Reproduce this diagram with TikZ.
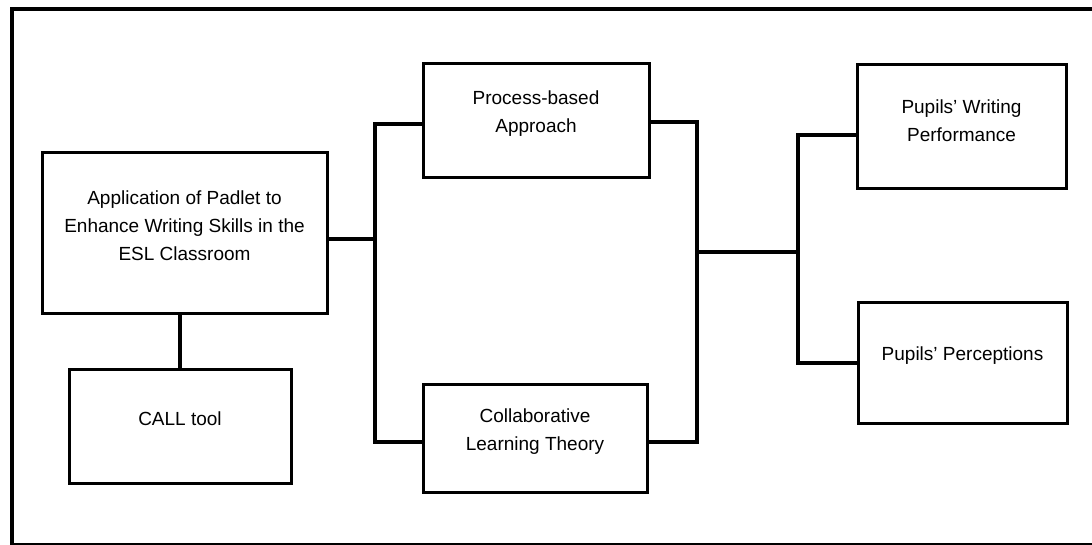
\documentclass[tikz,border=0pt]{standalone}
\usepackage{fontspec}
\setmainfont{Liberation Sans}
\begin{document}
\begin{tikzpicture}[x=1pt,y=-1pt,
  box/.style={draw=black,line width=3pt,inner sep=0pt,rectangle},
  lbl/.style={font=\fontsize{19}{28}\selectfont,align=center,inner sep=0pt,text=black},
  conn/.style={draw=black,line width=3.5pt,line join=miter}]
\useasboundingbox (0,0) rectangle (1092,545);
% outer frame (open on the right)
\draw[line width=4pt] (1092,9.5) -- (11.5,9.5) -- (11.5,545);
\draw[line width=2pt] (10,543.5) -- (1092,543.5);
% boxes
\node[box,minimum width=285pt,minimum height=160pt] (app) at (184.5,233) {};
\node[box,minimum width=222pt,minimum height=114pt] (call) at (180,426) {};
\node[box,minimum width=226pt,minimum height=114pt] (proc) at (536,121) {};
\node[box,minimum width=224pt,minimum height=108pt] (collab) at (535,438) {};
\node[box,minimum width=209pt,minimum height=124pt] (write) at (961.5,127) {};
\node[box,minimum width=209pt,minimum height=120pt] (perc) at (962.5,363) {};
% texts
\node[lbl] (tapp) at (184.5,226) {Application of Padlet to\\Enhance Writing Skills in the\\ESL Classroom};
\node[lbl,anchor=base] (tcall) at (180,425) {CALL tool};
\node[lbl] (tproc) at (536,114) {Process-based\\Approach};
\node[lbl] (tcollab) at (535,432) {Collaborative\\Learning Theory};
\node[lbl] (twrite) at (961.5,121) {Pupils’ Writing\\Performance};
\node[lbl,anchor=base] (tperc) at (962.5,360) {Pupils’ Perceptions};
% junction coordinates
\coordinate (j1) at (375,239);
\coordinate (pa) at (375,124);
\coordinate (pc) at (375,442);
\coordinate (qa) at (697,122);
\coordinate (qc) at (697,442);
\coordinate (j2) at (697,252);
\coordinate (j3) at (798,252);
\coordinate (ra) at (798,135);
\coordinate (rc) at (798,363);
% connectors
\draw[conn] (app.east |- j1) -- (j1);
\draw[conn] (proc.west |- pa) -- (pa) -- (pc) -- (collab.west |- pc);
\draw[conn] (proc.east |- qa) -- (qa) -- (qc) -- (collab.east |- qc);
\draw[conn] (j2) -- (j3);
\draw[conn] (write.west |- ra) -- (ra) -- (rc) -- (perc.west |- rc);
\draw[conn] (call.north) -- (call.north |- app.south);
\end{tikzpicture}
\end{document}
